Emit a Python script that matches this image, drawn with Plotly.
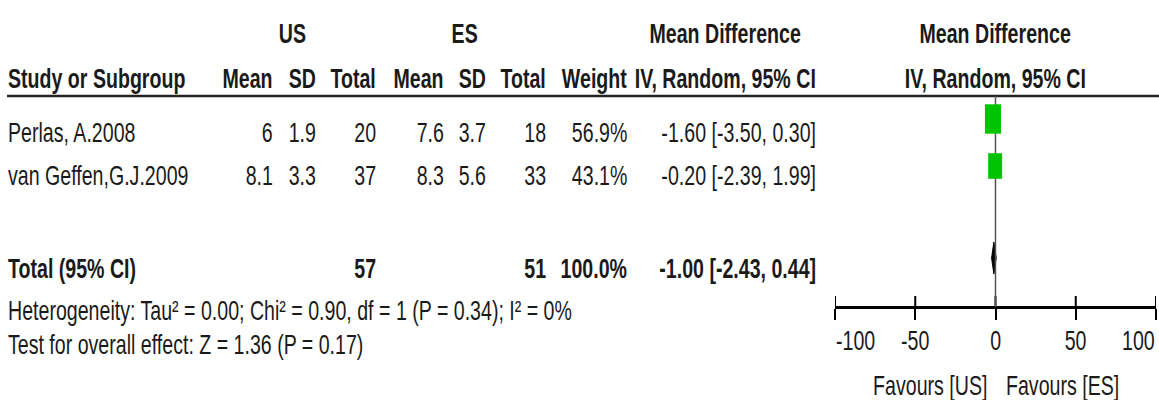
import math
import plotly.graph_objects as go

# ---- study data ----
studies = ["Perlas, A.2008", "van Geffen,G.J.2009"]
us_mean = [6, 8.1]
us_sd = [1.9, 3.3]
us_n = [20, 37]
es_mean = [7.6, 8.3]
es_sd = [3.7, 5.6]
es_n = [18, 33]
weights = [56.9, 43.1]
md = [-1.60, -0.20]
ci_lo = [-3.50, -2.39]
ci_hi = [0.30, 1.99]

# ---- pooled result ----
total_us_n = 57
total_es_n = 51
total_weight = 100.0
total_md = -1.00
total_lo = -2.43
total_hi = 0.44
heterogeneity = "Heterogeneity: Tau² = 0.00; Chi² = 0.90, df = 1 (P = 0.34); I² = 0%"
overall_test = "Test for overall effect: Z = 1.36 (P = 0.17)"

# ---- axis ----
tick_vals = [-100, -50, 0, 50, 100]
fav_left = "Favours [US]"
fav_right = "Favours [ES]"

W, H = 1159, 400
FONT = "Liberation Sans, Arial, sans-serif"
TXT = "#1a1a1a"
GREEN = "#00c400"
FS = 28
SQUEEZE = 0.70  # horizontal text compression (narrow type)

# row centres (y axis runs top-down in pixel-like units)
Y_GROUP, Y_HEAD = 33, 78
Y_ROWS = [132, 175]
Y_MARKS = [119, 166]
Y_TOTAL = 268
Y_DIAMOND = 258
Y_HET, Y_TEST = 310, 344
Y_RULE = 96
Y_AXIS = 307
Y_TICKLAB = 340
Y_FAV = 385

# right edges of the table columns
COL = dict(us_mean=274, us_sd=317, us_n=377, es_mean=445, es_sd=487, es_n=547,
           weight=628, ci=817)

fig = go.Figure()
ann = []
ALIGN = {"left": "left", "right": "right", "center": "center"}


def txt(x, y, s, anchor="right", bold=False, size=FS, xref="paper"):
    xv = x / W if xref == "paper" else x
    ann.append(dict(x=xv, y=y, xref=xref, yref="y", text=f"<b>{s}</b>" if bold else s,
                    showarrow=False, xanchor=anchor, yanchor="middle", align=ALIGN[anchor],
                    borderpad=0,
                    font=dict(family=FONT, size=size, color=TXT)))


def fmt(v):
    return f"{v:g}"


# group headers
txt(292, Y_GROUP, "US", "center", True)
txt(464, Y_GROUP, "ES", "center", True)
txt(725, Y_GROUP, "Mean Difference", "center", True)
txt(995, Y_GROUP, "Mean Difference", "center", True)

# column headers
txt(7, Y_HEAD, "Study or Subgroup", "left", True)
for key, lab in [("us_mean", "Mean"), ("us_sd", "SD"), ("us_n", "Total"),
                 ("es_mean", "Mean"), ("es_sd", "SD"), ("es_n", "Total"),
                 ("weight", "Weight"), ("ci", "IV, Random, 95% CI")]:
    txt(COL[key], Y_HEAD, lab, "right", True)
txt(995, Y_HEAD, "IV, Random, 95% CI", "center", True)

# study rows
for i, name in enumerate(studies):
    y = Y_ROWS[i]
    txt(7, y, name, "left")
    txt(COL["us_mean"], y, fmt(us_mean[i]))
    txt(COL["us_sd"], y, fmt(us_sd[i]))
    txt(COL["us_n"], y, str(us_n[i]))
    txt(COL["es_mean"], y, fmt(es_mean[i]))
    txt(COL["es_sd"], y, fmt(es_sd[i]))
    txt(COL["es_n"], y, str(es_n[i]))
    txt(COL["weight"], y, f"{weights[i]:.1f}%")
    txt(COL["ci"], y, f"{md[i]:.2f} [{ci_lo[i]:.2f}, {ci_hi[i]:.2f}]")

# total row
txt(7, Y_TOTAL, "Total (95% CI)", "left", True)
txt(COL["us_n"], Y_TOTAL, str(total_us_n), "right", True)
txt(COL["es_n"], Y_TOTAL, str(total_es_n), "right", True)
txt(COL["weight"], Y_TOTAL, f"{total_weight:.1f}%", "right", True)
txt(COL["ci"], Y_TOTAL, f"{total_md:.2f} [{total_lo:.2f}, {total_hi:.2f}]", "right", True)

txt(7, Y_HET, heterogeneity, "left")
txt(7, Y_TEST, overall_test, "left")

# axis tick labels (end labels kept inside the axis span)
for j, t in enumerate(tick_vals):
    a = "left" if j == 0 else ("right" if j == len(tick_vals) - 1 else "center")
    txt(t, Y_TICKLAB, str(t), a, xref="x")

# favours labels
txt(0, Y_FAV, fav_left, "right", xref="x")
txt(0, Y_FAV, fav_right, "left", xref="x")
ann[-2]["xshift"] = -8
ann[-1]["xshift"] = 9

shapes = []
# header rule across the whole table
shapes.append(dict(type="line", xref="paper", yref="y", x0=7 / W, x1=1.0, y0=Y_RULE, y1=Y_RULE,
                   line=dict(color="#222222", width=2.5)))
# line of no effect
shapes.append(dict(type="line", xref="x", yref="y", x0=0, x1=0, y0=Y_RULE, y1=Y_AXIS,
                   line=dict(color="#555555", width=1.5)))

# confidence intervals
ci_x, ci_y = [], []
for i in range(len(studies)):
    ci_x += [ci_lo[i], ci_hi[i], None]
    ci_y += [Y_MARKS[i], Y_MARKS[i], None]
fig.add_trace(go.Scatter(x=ci_x, y=ci_y, mode="lines", line=dict(color="black", width=1.5),
                         hoverinfo="skip", showlegend=False))

# weighted boxes (area follows study weight)
for i in range(len(studies)):
    h = 3.9 * math.sqrt(weights[i])
    half_w = h * 0.34 / 2
    shapes.append(dict(type="rect", xref="x", yref="y",
                       x0=md[i] - half_w, x1=md[i] + half_w,
                       y0=Y_MARKS[i] - h / 2, y1=Y_MARKS[i] + h / 2,
                       fillcolor=GREEN, line=dict(color=GREEN, width=0)))

# pooled diamond
dy = 16
fig.add_trace(go.Scatter(x=[total_lo, total_md, total_hi, total_md, total_lo],
                         y=[Y_DIAMOND, Y_DIAMOND - dy, Y_DIAMOND, Y_DIAMOND + dy, Y_DIAMOND],
                         mode="lines", fill="toself", fillcolor="black",
                         line=dict(color="black", width=1), hoverinfo="skip", showlegend=False))

# upper halves of the crossing tick marks
tx, ty = [], []
for t in tick_vals:
    tx += [t, t, None]
    ty += [Y_AXIS - 11, Y_AXIS, None]
fig.add_trace(go.Scatter(x=tx, y=ty, mode="lines", line=dict(color="black", width=2),
                         hoverinfo="skip", showlegend=False))

fig.update_layout(
    width=W, height=H, margin=dict(l=0, r=0, t=0, b=0, autoexpand=False),
    paper_bgcolor="white", plot_bgcolor="white",
    annotations=ann, shapes=shapes, showlegend=False,
    xaxis=dict(range=[-100, 100], domain=[835 / W, 1156 / W], anchor="free",
               position=(H - Y_AXIS) / H, showline=True, linecolor="black", linewidth=2.5,
               ticks="outside", ticklen=11, tickwidth=2, tickcolor="black",
               tickvals=tick_vals, showticklabels=False, automargin=False,
               showgrid=False, zeroline=False, fixedrange=True),
    yaxis=dict(range=[H, 0], domain=[0, 1], visible=False, fixedrange=True, automargin=False),
)

# narrow type: squeeze every text run horizontally about its anchored edge
squeeze_css = f"""
.annotation-text {{ transform-box: fill-box; transform: scaleX({SQUEEZE}); }}
.annotation-text[text-anchor="start"] {{ transform-origin: left center; }}
.annotation-text[text-anchor="end"] {{ transform-origin: right center; }}
.annotation-text[text-anchor="middle"] {{ transform-origin: center center; }}
"""
post_js = ("var st = document.createElement('style'); st.textContent = "
           + repr(squeeze_css).replace("\\n", " ") + "; document.head.appendChild(st);")

fig.write_html("out.html", post_script=post_js)
